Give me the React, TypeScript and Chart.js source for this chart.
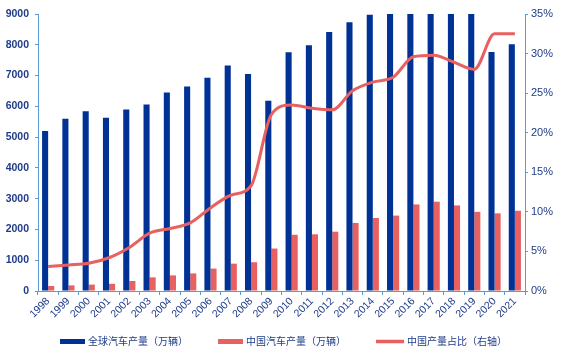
import React, { useEffect, useRef } from "react";
import { Chart, registerables } from "chart.js";

Chart.register(...registerables);

const years = ["1998","1999","2000","2001","2002","2003","2004","2005","2006","2007","2008","2009","2010","2011","2012","2013","2014","2015","2016","2017","2018","2019","2020","2021"];
const globalProd = [5200,5600,5837,5630,5899,6057,6446,6648,6926,7327,7053,6179,7758,7987,8414,8733,8975,9068,9498,9730,9563,9179,7762,8015];
const chinaProd = [163,183,207,234,325,444,507,571,728,888,935,1379,1826,1842,1927,2212,2372,2450,2812,2902,2781,2572,2523,2608];
const chinaShare = [3.1,3.3,3.5,4.2,5.5,7.3,7.9,8.6,10.5,12.1,13.3,22.3,23.5,23.1,22.9,25.3,26.4,27.0,29.6,29.8,28.9,28.0,32.5,32.5];
const seriesNames = ["全球汽车产量（万辆）","中国汽车产量（万辆）","中国产量占比（右轴）"];
const leftTicks = [0,1000,2000,3000,4000,5000,6000,7000,8000,9000];
const rightTicks = [0,5,10,15,20,25,30,35];

const BLUE = "#003296";
const RED = "#E8605F";
const AXIS = "#5B9BD5";
const TEXT = "#1F3C88";
const FONT = "'Liberation Sans', Arial, 'Noto Sans CJK SC', sans-serif";
const LEGEND_FONT = "10px 'Noto Sans CJK SC', 'Liberation Sans', sans-serif";

const bottomLegend = {
  id: "bottomLegend",
  afterDraw(chart: any) {
    const ctx = chart.ctx;
    const items = [
      { name: seriesNames[0], color: BLUE, w: 25, h: 5 },
      { name: seriesNames[1], color: RED, w: 25, h: 5 },
      { name: seriesNames[2], color: RED, w: 28, h: 3.5 },
    ];
    ctx.save();
    ctx.font = LEGEND_FONT;
    const gapText = 3;
    const gapItem = 30;
    const widths = items.map((it) => it.w + gapText + ctx.measureText(it.name).width);
    const total = widths.reduce((a, b) => a + b, 0) + gapItem * (items.length - 1);
    let x = (chart.width - total) / 2 + 1;
    const cy = 341.5;
    ctx.textBaseline = "middle";
    ctx.textAlign = "left";
    items.forEach((it, i) => {
      ctx.fillStyle = it.color;
      ctx.fillRect(x, cy - it.h / 2, it.w, it.h);
      ctx.fillStyle = TEXT;
      ctx.fillText(it.name, x + it.w + gapText, cy);
      x += widths[i] + gapItem;
    });
    ctx.restore();
  },
};

export default function App() {
  const ref = useRef<HTMLCanvasElement | null>(null);
  useEffect(() => {
    document.body.style.margin = "0";
    const ctx = ref.current!;
    const chart = new Chart(ctx, {
      type: "bar",
      data: {
        labels: years,
        datasets: [
          { type: "bar", label: seriesNames[0], data: globalProd, backgroundColor: BLUE, yAxisID: "y", order: 1, categoryPercentage: 0.6, barPercentage: 1 },
          { type: "bar", label: seriesNames[1], data: chinaProd, backgroundColor: RED, yAxisID: "y", order: 2, categoryPercentage: 0.6, barPercentage: 1 },
          { type: "line", label: seriesNames[2], data: chinaShare, borderColor: RED, backgroundColor: RED, borderWidth: 3, pointRadius: 0, cubicInterpolationMode: "monotone", yAxisID: "y1", order: 0 },
        ] as any,
      },
      options: {
        animation: false,
        responsive: false,
        layout: { padding: { top: 14, left: 0, right: 0, bottom: 25 } },
        plugins: {
          tooltip: { enabled: false },
          legend: { display: false },
        },
        scales: {
          x: {
            grid: { display: true, drawOnChartArea: false, color: AXIS, tickLength: 4, offset: true },
            border: { color: AXIS },
            ticks: { color: TEXT, font: { family: FONT, size: 10.5 }, minRotation: 45, maxRotation: 45, padding: 0, autoSkip: false },
            afterFit: (s: any) => { s.height = 35; },
          },
          y: {
            position: "left",
            min: 0,
            max: 9000,
            grid: { display: true, drawOnChartArea: false, color: AXIS, tickLength: 3 },
            border: { color: AXIS },
            afterBuildTicks: (s: any) => { s.ticks = leftTicks.map((v) => ({ value: v })); },
            ticks: { color: TEXT, font: { family: FONT, size: 10.5, weight: "bold" }, padding: 6, callback: (v: any) => String(v) },
            afterFit: (s: any) => { s.width = 38; },
          },
          y1: {
            position: "right",
            min: 0,
            max: 35,
            grid: { display: true, drawOnChartArea: false, color: AXIS, tickLength: 3 },
            border: { color: AXIS },
            afterBuildTicks: (s: any) => { s.ticks = rightTicks.map((v) => ({ value: v })); },
            ticks: { color: TEXT, font: { family: FONT, size: 11 }, padding: 3, callback: (v: any) => v + "%" },
            afterFit: (s: any) => { s.width = 40; },
          },
        },
      } as any,
      plugins: [bottomLegend],
    });
    return () => chart.destroy();
  }, []);
  return (
    <div style={{ position: "absolute", left: 0, top: 0, width: 565, height: 351, background: "#fff" }}>
      <canvas ref={ref} width={565} height={351} style={{ display: "block" }} />
    </div>
  );
}
